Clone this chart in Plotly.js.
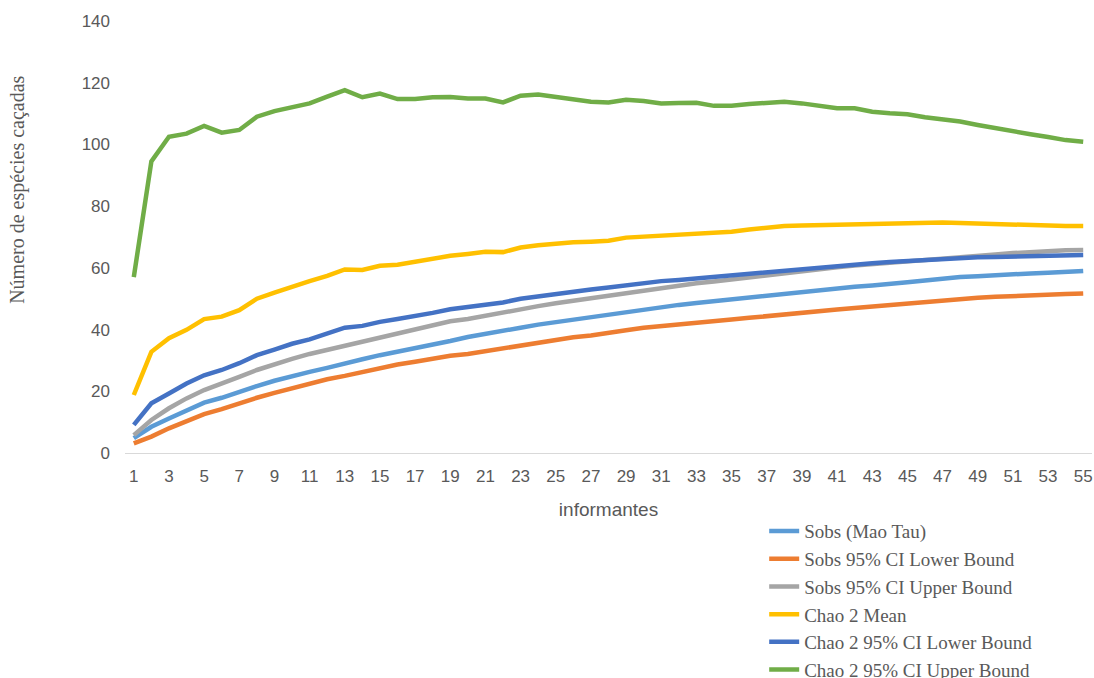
<!DOCTYPE html>
<html>
<head>
<meta charset="utf-8">
<script src="https://cdn.plot.ly/plotly-3.0.1.min.js"></script>
<style>html,body{margin:0;padding:0;background:#fff;}#chart{width:1094px;height:678px;}</style>
</head>
<body>
<div id="chart"></div>
<script>
const informantes = [1,2,3,4,5,6,7,8,9,10,11,12,13,14,15,16,17,18,19,20,21,22,23,24,25,26,27,28,29,30,31,32,33,34,35,36,37,38,39,40,41,42,43,44,45,46,47,48,49,50,51,52,53,54,55];
const tickLabels = [1,3,5,7,9,11,13,15,17,19,21,23,25,27,29,31,33,35,37,39,41,43,45,47,49,51,53,55];

const sobsMaoTau = [4.8,8.5,11.2,13.9,16.3,17.9,19.9,21.7,23.4,25,26.3,27.6,29.1,30.4,31.7,32.8,33.9,35.2,36.3,37.6,38.7,39.6,40.6,41.6,42.4,43.3,44.1,44.9,45.9,46.7,47.4,48,48.6,49.2,49.8,50.4,51.1,51.8,52.4,52.9,53.4,53.9,54.3,54.7,55.3,55.9,56.5,57,57.3,57.7,58,58.2,58.4,58.7,59];
const sobsLower = [3.1,5.3,8,10.5,12.6,14.2,16.1,17.9,19.5,21,22.6,23.9,25,26.3,27.7,28.7,29.6,30.6,31.5,32.1,33,33.8,35,35.9,36.7,37.5,38.1,38.8,39.8,40.6,41.2,41.7,42.2,42.8,43.3,43.8,44.4,45,45.6,46,46.5,47,47.5,47.8,48.3,48.8,49.3,49.8,50.3,50.6,50.9,51.1,51.3,51.5,51.7];
const sobsUpper = [5.8,10.7,14.5,17.7,20.4,22.4,24.7,26.9,28.8,30.5,32.1,33.4,34.8,36.1,37.5,38.8,39.9,41.4,42.7,43.4,44.5,45.5,46.6,47.6,48.5,49.3,50.1,50.9,51.7,52.8,53.6,54.2,55,55.6,56.3,57,57.6,58.3,59,59.6,60.2,60.8,61.2,61.6,62.1,62.6,63.1,63.5,63.9,64.3,64.8,65.2,65.5,65.7,65.8];
const chao2Mean = [18.8,32.8,37.2,39.9,43.4,44.2,46.3,50,52,54,55.7,57.4,59.5,59.3,60.7,61,62,63.1,63.9,64.5,65.2,65.1,66.6,67.3,67.9,68.3,68.5,68.8,69.8,70.1,70.4,70.6,71,71.3,71.7,72.4,73,73.6,73.7,73.8,74.1,74.3,74.4,74.4,74.4,74.5,74.7,74.5,74.3,74.2,74,73.8,73.6,73.6,73.6];
const chao2Lower = [9.1,16.1,19.3,22.5,25.2,26.9,29.1,31.7,33.5,35.4,36.8,38.7,40.6,41.2,42.5,43.4,44.3,45.4,46.6,47.3,48.1,48.8,50,50.8,51.6,52.3,53,53.6,54.4,55.1,55.7,56.1,56.6,57,57.6,58.2,58.8,59.3,59.8,60.2,60.6,61.2,61.5,61.9,62.2,62.6,63,63.2,63.4,63.5,63.6,63.7,63.8,64,64.2];
const chao2Upper = [57,94.5,102.5,103.5,106,103.8,104.7,109,110.8,111.9,113.3,115.5,117.6,115.3,116.5,114.7,114.7,115.3,115.4,114.9,114.9,113.6,115.8,116.2,115.4,114.5,113.8,113.6,114.5,114.1,113.3,113.4,113.5,112.5,112.5,113.1,113.4,113.8,113.3,112.6,111.7,111.7,110.6,110.1,109.8,108.8,108.1,107.4,106.3,105.2,104.2,103.3,102.4,101.4,100.9];

const seriesNames = ["Sobs (Mao Tau)","Sobs 95% CI Lower Bound","Sobs 95% CI Upper Bound","Chao 2 Mean","Chao 2 95% CI Lower Bound","Chao 2 95% CI Upper Bound"];
const seriesData = [sobsMaoTau, sobsLower, sobsUpper, chao2Mean, chao2Lower, chao2Upper];
const seriesColors = ["#5B9BD5","#ED7D31","#A5A5A5","#FFC000","#4472C4","#70AD47"];

const traces = seriesData.map((d, i) => ({
  type: "scatter",
  mode: "lines",
  x: informantes,
  y: d,
  name: seriesNames[i],
  legendgroup: "g" + i,
  line: {color: seriesColors[i], width: 4.5}
}));

const layout = {
  width: 1094,
  height: 678,
  paper_bgcolor: "#ffffff",
  plot_bgcolor: "#ffffff",
  margin: {l: 125, r: 2, t: 21, b: 225, autoexpand: false},
  showlegend: true,
  legend: {
    x: 0.661, xanchor: "left",
    y: -0.137, yanchor: "top",
    traceorder: "grouped",
    tracegroupgap: 0,
    font: {family: "Liberation Serif, Times New Roman, serif", size: 19, color: "#595959"},
    bgcolor: "rgba(0,0,0,0)"
  },
  xaxis: {
    range: [0.5, 55.5],
    tickmode: "array",
    tickvals: tickLabels,
    ticktext: tickLabels.map(String),
    showgrid: false,
    zeroline: false,
    showline: true,
    linecolor: "#D9D9D9",
    linewidth: 1,
    ticks: "",
    ticklabelstandoff: 8,
    automargin: false,
    tickfont: {family: "Liberation Sans, Arial, sans-serif", size: 17, color: "#595959"},
    title: {text: "informantes", font: {family: "Liberation Sans, Arial, sans-serif", size: 19, color: "#595959"}, standoff: 17}
  },
  yaxis: {
    range: [0, 140],
    tickvals: [0,20,40,60,80,100,120,140],
    showgrid: false,
    zeroline: false,
    showline: false,
    ticks: "",
    ticklabelstandoff: 14,
    automargin: false,
    tickfont: {family: "Liberation Sans, Arial, sans-serif", size: 17, color: "#595959"}
  },
  annotations: [{
    text: "Número de espécies caçadas",
    xref: "paper", yref: "paper",
    x: -0.1107, y: 0.609,
    xanchor: "center", yanchor: "middle",
    textangle: -90,
    showarrow: false,
    font: {family: "Liberation Serif, Times New Roman, serif", size: 20, color: "#595959"}
  }]
};

Plotly.newPlot("chart", traces, layout, {displayModeBar: false, staticPlot: true});
</script>
</body>
</html>
